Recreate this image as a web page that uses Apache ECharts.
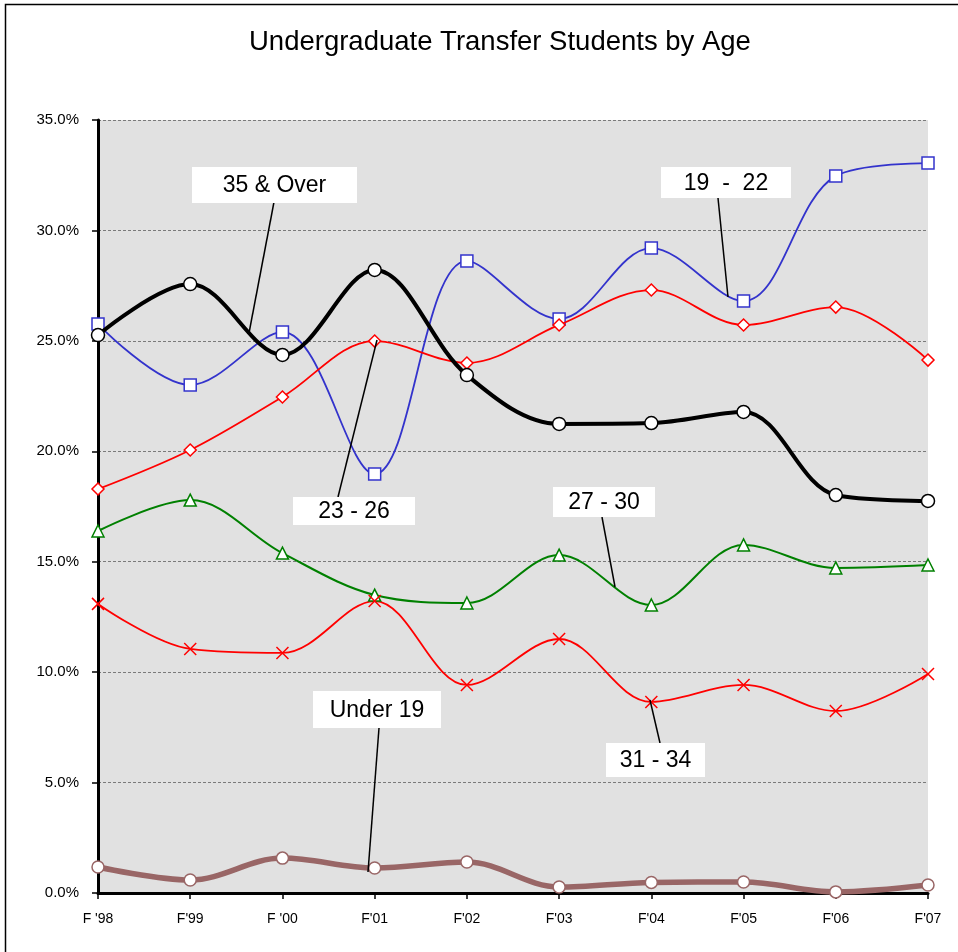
<!DOCTYPE html>
<html><head><meta charset="utf-8">
<script src="https://cdn.jsdelivr.net/npm/echarts@6/dist/echarts.min.js"></script>
<style>html,body{margin:0;padding:0;background:#fff;}#c{width:958px;height:952px;}</style>
</head><body><div id="c"></div>
<script>
const categories = ["F '98","F'99","F '00","F'01","F'02","F'03","F'04","F'05","F'06","F'07"];
const yTicks = [0,5,10,15,20,25,30,35];
const under19 = [1.18,0.59,1.58,1.13,1.40,0.27,0.48,0.50,0.05,0.36];
const age19to22 = [25.76,23.00,25.40,18.97,28.62,25.99,29.20,26.80,32.46,33.05];
const age23to26 = [18.29,20.06,22.46,24.99,24.00,25.72,27.30,25.72,26.53,24.13];
const age27to30 = [16.39,17.79,15.39,13.49,13.13,15.30,13.04,15.76,14.72,14.85];
const age31to34 = [13.09,11.05,10.87,13.22,9.42,11.50,8.65,9.42,8.24,9.92];
const age35over = [25.26,27.57,24.36,28.21,23.45,21.24,21.28,21.78,18.02,17.75];

const chart = echarts.init(document.getElementById('c'));
const F = 'Liberation Sans, Arial, sans-serif';
const SM = 0.35;
function ser(name, data, color, width, symbol, size, z){
  return {name, type:'line', data, smooth:SM, z,
    lineStyle:{color, width},
    symbol, symbolSize:size, showAllSymbol:true,
    itemStyle:{color:'#fff', borderColor:color, borderWidth:1.5}};
}
function callout(x,y,w,h,text,lx1,ly1,lx2,ly2){
  return [
    {type:'line', z:50, shape:{x1:lx1,y1:ly1,x2:lx2,y2:ly2}, style:{stroke:'#000', lineWidth:1.5}},
    {type:'rect', z:51, shape:{x,y,width:w,height:h}, style:{fill:'#fff'}},
    {type:'text', z:52, x:x+w/2, y:y+h/2+1, style:{text, fill:'#000', font:'23px '+F, align:'center', verticalAlign:'middle'}}
  ];
}
const xSym = 'path://M0 0L10 10M10 0L0 10';
chart.setOption({
  animation:false,
  backgroundColor:'#fff',
  title:{text:'Undergraduate Transfer Students by Age', left:244, top:23, itemGap:0,
    textStyle:{fontFamily:F, fontSize:27.5, fontWeight:'normal', color:'#000'}},
  grid:{left:98, right:30, top:120, bottom:59, show:true, backgroundColor:'#e1e1e1', borderWidth:0},
  xAxis:{type:'category', data:categories, boundaryGap:false,
    axisLine:{lineStyle:{color:'#000', width:3}},
    axisTick:{show:true, alignWithLabel:true, length:6, lineStyle:{color:'#000', width:1.5}},
    axisLabel:{color:'#000', fontFamily:F, fontSize:14, margin:19}},
  yAxis:{type:'value', min:0, max:35, interval:5,
    axisLine:{show:true, lineStyle:{color:'#000', width:3}},
    axisTick:{show:true, length:6, lineStyle:{color:'#000', width:1.5}},
    axisLabel:{color:'#000', fontFamily:F, fontSize:15, margin:19, formatter:v=>v.toFixed(1)+'%'},
    splitLine:{show:true, lineStyle:{color:'#7a7a7a', type:[3,2], width:1}}},
  series:[
    ser('Under 19', under19, '#996666', 5.5, 'circle', 12, 3),
    ser('19 - 22', age19to22, '#3333cc', 1.8, 'rect', 12, 4),
    ser('23 - 26', age23to26, '#ff0000', 1.8, 'diamond', 12, 5),
    ser('27 - 30', age27to30, '#008000', 2, 'triangle', 12, 4),
    Object.assign(ser('31 - 34', age31to34, '#ff0000', 1.8, xSym, 12, 4), {itemStyle:{color:'#ff0000', borderColor:'#ff0000', borderWidth:1.5}}),
    ser('35 & Over', age35over, '#000000', 4, 'circle', 13, 6)
  ],
  graphic:[
    {type:'rect', z:100, shape:{x:5.5,y:4.5,width:1000,height:1000}, style:{fill:'none', stroke:'#000', lineWidth:1.5}},
    ...callout(192,167,165,36,'35 & Over',274,202,249,333),
    ...callout(661,167,130,31,'19  -  22',718,198,728,297),
    ...callout(293,497,122,28,'23 - 26',338,497,377,340),
    ...callout(553,487,102,30,'27 - 30',602,517,615,587),
    ...callout(313,691,128,37,'Under 19',379,728,368,872),
    ...callout(606,743,99,34,'31 - 34',660,743,650,700)
  ]
});
</script></body></html>
